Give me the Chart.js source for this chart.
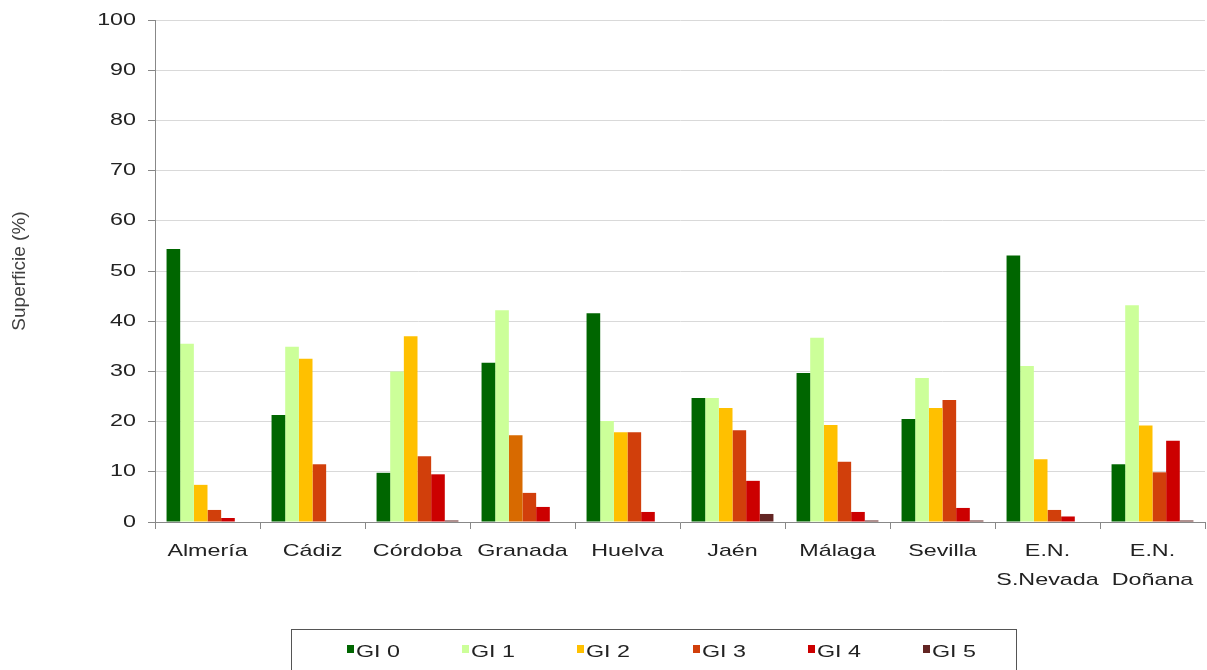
<!DOCTYPE html>
<html>
<head>
<meta charset="utf-8">
<script src="https://cdn.jsdelivr.net/npm/chart.js@4/dist/chart.umd.min.js"></script>
<style>
  html, body { margin: 0; padding: 0; background: #fff; }
  #wrap { position: relative; width: 1207px; height: 670px; overflow: hidden; }
  #myChart { position: absolute; left: 0; top: 0; }
  #legend {
    position: absolute; left: 291px; top: 629px; width: 726px; height: 50px;
    border: 1px solid #555; box-sizing: border-box;
    font-family: "Liberation Sans", Arial, sans-serif; font-size: 17px; color: #222;
  }
  #legend .box { position: absolute; top: 15px; width: 7px; height: 8px; }
  #legend .txt { position: absolute; top: 12px; white-space: nowrap; transform: scaleX(1.37); transform-origin: 0 0; line-height: 20px; }
</style>
</head>
<body>
<div id="wrap">
  <canvas id="myChart" width="1207" height="670"></canvas>
  <div id="legend"></div>
</div>
<script>
// datos
const provincias = ['Almería', 'Cádiz', 'Córdoba', 'Granada', 'Huelva', 'Jaén', 'Málaga', 'Sevilla', ['E.N.', 'S.Nevada'], ['E.N.', 'Doñana']];
const gi0 = [54.4, 21.3, 9.8, 31.7, 41.6, 24.7, 29.7, 20.5, 53.1, 11.5];
const gi1 = [35.5, 34.9, 30.0, 42.2, 20.1, 24.7, 36.7, 28.7, 31.1, 43.2];
const gi2 = [7.4, 32.5, 37.0, 17.3, 17.9, 22.7, 19.3, 22.7, 12.5, 19.2];
const gi3 = [2.4, 11.5, 13.1, 5.8, 17.9, 18.3, 12.0, 24.3, 2.4, 9.9];
const gi4 = [0.8, 0, 9.5, 3.0, 2.0, 8.2, 2.0, 2.8, 1.1, 16.2];
const gi5 = [0, 0, 0.3, 0, 0, 1.6, 0.3, 0.3, 0, 0.3];
const yTicks = [0, 10, 20, 30, 40, 50, 60, 70, 80, 90, 100];

const font = "'Liberation Sans', Arial, sans-serif";
// el texto del original sale estirado en horizontal
const stretch = 1.37;

// Granada GI 2 sale en otro tono en el original
const gi2Colors = provincias.map(function (p, i) { return i === 3 ? '#D86A00' : '#FFC000'; });

let datasets = [
  { label: 'GI 0', data: gi0, backgroundColor: '#006600' },
  { label: 'GI 1', data: gi1, backgroundColor: '#CCFF99' },
  { label: 'GI 2', data: gi2, backgroundColor: gi2Colors, legendColor: '#FFC000' },
  { label: 'GI 3', data: gi3, backgroundColor: '#D13F0B' },
  { label: 'GI 4', data: gi4, backgroundColor: '#CC0000' },
  { label: 'GI 5', data: gi5, backgroundColor: '#632523' }
];

// dibuja las etiquetas de los ejes estiradas
const stretchLabels = {
  id: 'stretchLabels',
  afterDraw: function (chart) {
    const c = chart.ctx;
    const xs = chart.scales.x;
    const ys = chart.scales.y;
    c.save();
    c.fillStyle = '#222';
    c.font = '17px ' + font;
    c.textBaseline = 'middle';
    c.textAlign = 'center';
    xs.ticks.forEach(function (t, i) {
      const x = xs.getPixelForTick(i);
      [].concat(t.label).forEach(function (s, j) {
        c.save();
        c.translate(x, xs.top + 29 + j * 29.5);
        c.scale(stretch, 1);
        c.fillText(s, 0, 0);
        c.restore();
      });
    });
    c.textAlign = 'right';
    ys.ticks.forEach(function (t, i) {
      const y = ys.getPixelForTick(i);
      c.save();
      c.translate(ys.right - 19, y);
      c.scale(stretch, 1);
      c.fillText(String(t.value), 0, 0);
      c.restore();
    });
    c.restore();
  }
};

const ctx = document.getElementById('myChart');

const chart = new Chart(ctx, {
  type: 'bar',
  data: { labels: provincias, datasets: datasets },
  plugins: [stretchLabels],
  options: {
    responsive: false,
    animation: false,
    layout: { padding: { top: 20, right: 2, left: 0, bottom: 0 } },
    datasets: { bar: { categoryPercentage: 0.78, barPercentage: 1.0 } },
    plugins: {
      legend: { display: false },
      tooltip: { enabled: false }
    },
    scales: {
      x: {
        grid: { drawOnChartArea: false, drawTicks: true, tickLength: 7, tickColor: '#888', offset: true },
        border: { color: '#888', width: 1 },
        ticks: {
          color: 'rgba(0,0,0,0)',
          maxRotation: 0,
          autoSkip: false,
          font: { family: font, size: 17 }
        },
        afterFit: function (scale) { scale.height = 148; }
      },
      y: {
        min: 0,
        max: 100,
        afterBuildTicks: function (scale) {
          scale.ticks = yTicks.map(function (v) { return { value: v }; });
        },
        grid: { color: '#d9d9d9', lineWidth: 1, tickLength: 7, tickColor: '#888' },
        border: { color: '#888', width: 1 },
        ticks: {
          color: 'rgba(0,0,0,0)',
          font: { family: font, size: 17 }
        },
        title: {
          display: true,
          text: 'Superficie (%)',
          color: '#404040',
          font: { family: font, size: 19 },
          padding: { top: 8, bottom: 0 }
        },
        afterFit: function (scale) { scale.width = 155; }
      }
    }
  }
});

// leyenda con borde, como en el original
const legendEl = document.getElementById('legend');
chart.data.datasets.forEach(function (ds, i) {
  const left = 55 + i * 115.2;
  const box = document.createElement('span');
  box.className = 'box';
  box.style.left = left + 'px';
  box.style.background = ds.legendColor || ds.backgroundColor;
  const txt = document.createElement('span');
  txt.className = 'txt';
  txt.style.left = (left + 9) + 'px';
  txt.textContent = ds.label;
  legendEl.appendChild(box);
  legendEl.appendChild(txt);
});
</script>
</body>
</html>
